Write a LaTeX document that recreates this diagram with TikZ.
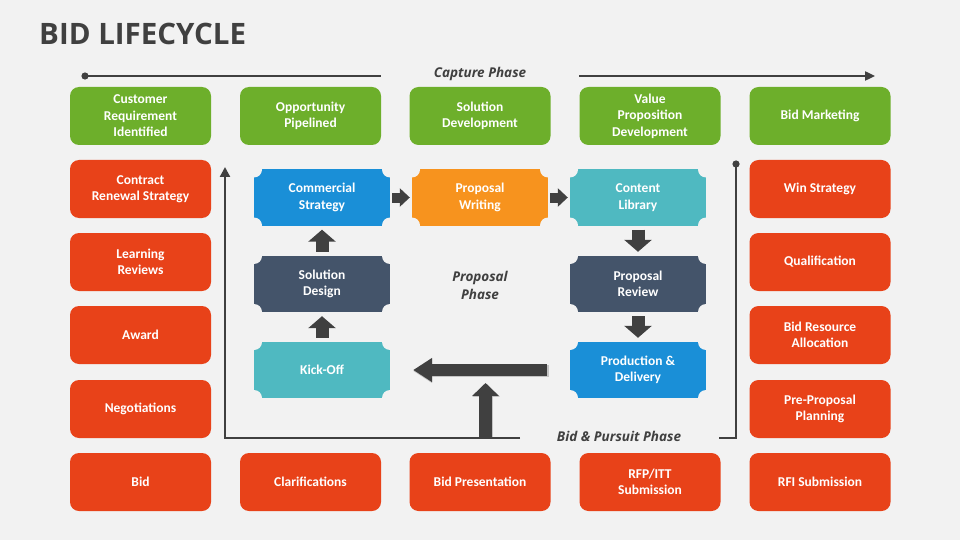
\documentclass[tikz,border=0pt]{standalone}
\usepackage{fontspec}
\setmainfont{Carlito}
\newfontfamily\opensans{Open Sans}
\usetikzlibrary{arrows.meta}
\definecolor{bg}{HTML}{F2F2F2}
\definecolor{dark}{HTML}{404040}
\definecolor{cgreen}{HTML}{6DAF2B}
\definecolor{cred}{HTML}{E84219}
\definecolor{cblue}{HTML}{1A8FD7}
\definecolor{corange}{HTML}{F7931E}
\definecolor{cteal}{HTML}{4FB9C1}
\definecolor{cslate}{HTML}{44546A}
\definecolor{shade}{HTML}{C4C4C4}
\newcommand\bxfont{\fontsize{13.5}{16.5}\selectfont\bfseries}
\newcommand\phfont{\opensans\bfseries\itshape\fontsize{13.5}{18}\selectfont}
\begin{document}
\begin{tikzpicture}[x=1pt,y=-1pt,
  box/.style={rounded corners=9pt, minimum width=141pt, minimum height=58pt,
    inner sep=0pt, fill=#1, text=white, align=center, font=\bxfont},
  ticket/.style={minimum width=136pt, minimum height=56pt, inner sep=0pt,
    fill=#1, text=white, align=center, font=\bxfont,
    path picture={\fill[bg]
      (path picture bounding box.north west) circle (8pt)
      (path picture bounding box.north east) circle (8pt)
      (path picture bounding box.south west) circle (8pt)
      (path picture bounding box.south east) circle (8pt);}},
  harrow/.style={draw=dark, line width=10pt, line cap=butt,
    -{Triangle[length=10pt,width=18pt]}, shorten <=2pt, shorten >=2pt},
  varrow/.style={draw=dark, line width=13pt, line cap=butt,
    -{Triangle[length=12pt,width=27pt]}, shorten <=4pt, shorten >=4pt},
  bigarrow/.style={line width=12pt, line cap=butt,
    -{Triangle[length=19pt,width=23pt]}},
  upbig/.style={line width=13pt, line cap=butt,
    -{Triangle[length=13pt,width=26pt]}},
  phaseline/.style={draw=dark, line width=2.3pt},
  phase/.style={font=\phfont, text=dark, inner sep=0pt, align=center}
]
\useasboundingbox (0,0) rectangle (960,540);
\fill[bg] (0,0) rectangle (960,540);

% title
\node[anchor=base west, inner sep=0pt, text=dark,
  font=\opensans\bfseries\fontsize{29.5}{30}\selectfont] (title) at (39,45) {BID LIFECYCLE};

% top row (green)
\node[box=cgreen] (g1) at (140.5,116) {Customer\\Requirement\\Identified};
\node[box=cgreen] (g2) at (310.5,116) {Opportunity\\Pipelined};
\node[box=cgreen] (g3) at (480,116) {Solution\\Development};
\node[box=cgreen] (g4) at (650,116) {Value\\Proposition\\Development};
\node[box=cgreen] (g5) at (820,116) {Bid Marketing};

% left column (red)
\node[box=cred] (l1) at (140.5,189) {Contract\\Renewal Strategy};
\node[box=cred] (l2) at (140.5,262) {Learning\\Reviews};
\node[box=cred] (l3) at (140.5,335) {Award};
\node[box=cred] (l4) at (140.5,409) {Negotiations};
\node[box=cred] (l5) at (140.5,482) {Bid};

% bottom row (red)
\node[box=cred] (b2) at (310.5,482) {Clarifications};
\node[box=cred] (b3) at (480,482) {Bid Presentation};
\node[box=cred] (b4) at (650,482) {RFP/ITT\\Submission};

% right column (red)
\node[box=cred] (r1) at (820,189) {Win Strategy};
\node[box=cred] (r2) at (820,262) {Qualification};
\node[box=cred] (r3) at (820,335) {Bid Resource\\Allocation};
\node[box=cred] (r4) at (820,409) {Pre-Proposal\\Planning};
\node[box=cred] (r5) at (820,482) {RFI Submission};

% proposal phase tickets
\node[ticket=cblue]   (cs) at (322,197.5) {Commercial\\Strategy};
\node[ticket=corange] (pw) at (480,197.5) {Proposal\\Writing};
\node[ticket=cteal]   (cl) at (638,197.5) {Content\\Library};
\node[ticket=cslate]  (sd) at (322,284) {Solution\\Design};
\node[ticket=cslate]  (pr) at (638,284) {Proposal\\Review};
\node[ticket=cteal]   (ko) at (322,370) {Kick-Off};
\node[ticket=cblue]   (pd) at (638,370) {Production \&\\Delivery};

\node[phase] (pp) at (480,285.5) {Proposal\\Phase};

% small arrows between tickets
\draw[harrow] (cs.east) -- (pw.west);
\draw[harrow] (pw.east) -- (cl.west);
\draw[varrow] (cl.south) -- (pr.north);
\draw[varrow] (pr.south) -- (pd.north);
\draw[varrow] (ko.north) -- (sd.south);
\draw[varrow] (sd.north) -- (cs.south);

% big arrows
\coordinate (upbase) at (485.5,438);
\coordinate (uptip) at (485.5,383);
\draw[bigarrow, draw=shade, shorten <=22pt, shorten >=22pt, transform canvas={shift={(1pt,-1pt)}}] (pd.west) -- (ko.east);
\draw[bigarrow, draw=dark, shorten <=23pt, shorten >=23pt] (pd.west) -- (ko.east);
\draw[upbig, draw=shade, transform canvas={shift={(1pt,-0.5pt)}}] (upbase) -- (uptip);
\draw[upbig, draw=dark] (upbase) -- (uptip);

% capture phase line
\node[phase] (capt) at (480,73.5) {Capture Phase};
\coordinate (ca1) at (85,76);
\coordinate (ca2) at (381,76);
\coordinate (ca3) at (579,76);
\coordinate (ca4) at (875,76);
\draw[phaseline] (ca1) -- (ca2);
\fill[dark] (ca1) circle (3.6pt);
\draw[phaseline, -{Triangle[length=10pt,width=9pt]}] (ca3) -- (ca4);

% bid & pursuit loop
\node[phase] (bpt) at (619,436) {Bid \& Pursuit Phase};
\coordinate (lp1) at (520,438);
\coordinate (lp2) at (225,438);
\coordinate (lp3) at (225,167);
\draw[phaseline, -{Triangle[length=10pt,width=10pt]}] (lp1) -- (lp2) -- (lp3);
\coordinate (rp1) at (736,164);
\coordinate (rp2) at (736,438);
\coordinate (rp3) at (719,438);
\draw[phaseline] (rp1) -- (rp2) -- (rp3);
\fill[dark] (rp1) circle (3.6pt);
\end{tikzpicture}
\end{document}
